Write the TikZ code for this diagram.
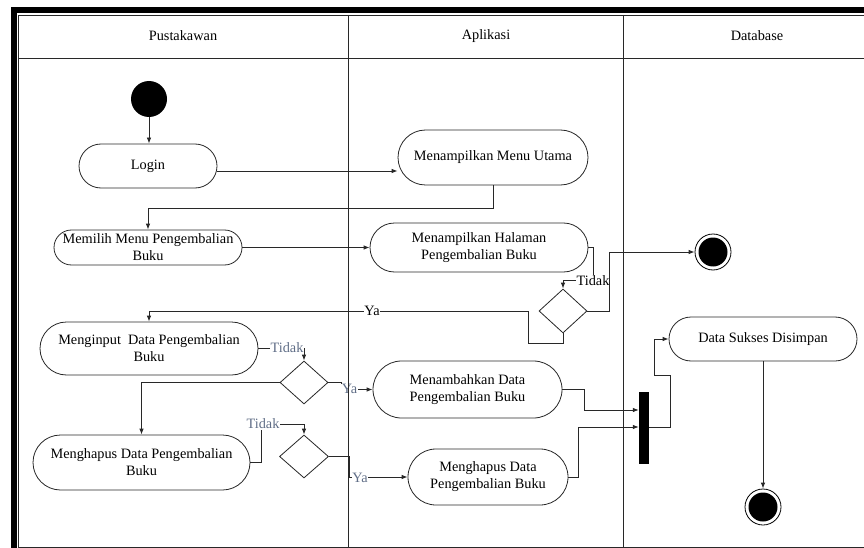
\documentclass[tikz,border=0pt]{standalone}
\usepackage{fontspec}
\setmainfont{Liberation Serif}
\usetikzlibrary{arrows.meta,shapes.geometric}
\newcommand\dgfont{\fontsize{14.3}{17}\selectfont}
\definecolor{slate}{RGB}{96,110,135}
\definecolor{ln}{RGB}{40,40,40}
\begin{document}
\begin{tikzpicture}[x=1pt,y=-1pt,
  act/.style={draw=ln, line width=0.8pt, align=center, inner sep=0pt, font=\dgfont},
  decision/.style={draw=ln, line width=0.8pt, diamond, inner sep=0pt},
  startnode/.style={circle, fill=black, inner sep=0pt, minimum size=36},
  endnode/.style={circle, draw=black, line width=0.8pt, inner sep=0pt, minimum size=36,
    path picture={\fill[black] (path picture bounding box.center) circle (14.5pt);}},
  barnode/.style={fill=black, inner sep=0pt, minimum width=10, minimum height=72},
  arr/.style={draw=ln, line width=0.8pt, -{Latex[length=6pt,width=4.5pt]}},
  lbl/.style={font=\dgfont, inner sep=0.5pt, fill=white},
  lbls/.style={lbl, text=slate},
  lane/.style={line width=0.8pt, draw=ln}
]
\clip (0,0) rectangle (864,548);
\fill[white] (0,0) rectangle (864,548);

% outer frame and header row
\draw[line width=6pt] (13.5,10.5) rectangle (890,570);
\draw[lane] (18,15) rectangle (880,547);
\draw[lane] (18,58) -- (880,58);

\node[font=\dgfont] (h1) at (183,36) {Pustakawan};
\node[font=\dgfont] (h2) at (486,36) {Aplikasi};
\node[font=\dgfont] (h3) at (757,36) {Database};

% activities
\node[startnode] (start) at (149,99) {};
\node[act, minimum width=138, minimum height=44, rounded corners=22] (login) at (148,166) {Login};
\node[act, minimum width=190, minimum height=55, rounded corners=27.5] (mmu) at (493,157.5) {Menampilkan Menu Utama};
\node[act, minimum width=188, minimum height=35, rounded corners=17.5] (memilih) at (148,247.5) {Memilih Menu Pengembalian\\Buku};
\node[act, minimum width=218, minimum height=49, rounded corners=24.5] (mhp) at (479,247.5) {Menampilkan Halaman\\Pengembalian Buku};
\node[decision, minimum width=48, minimum height=44] (d1) at (563,311) {};
\node[endnode] (end1) at (713,252) {};
\node[act, minimum width=218, minimum height=53, rounded corners=26.5] (menginput) at (149,348.5) {Menginput\ \ Data Pengembalian\\Buku};
\node[decision, minimum width=48, minimum height=43] (d2) at (304,382.5) {};
\node[act, minimum width=189, minimum height=57, rounded corners=28.5] (tambah) at (467.5,389.5) {Menambahkan Data\\Pengembalian Buku};
\node[act, minimum width=217, minimum height=55, rounded corners=27.5] (hapusp) at (141.5,462.5) {Menghapus Data Pengembalian\\Buku};
\node[decision, minimum width=49, minimum height=43] (d3) at (304,456.5) {};
\node[act, minimum width=160, minimum height=56, rounded corners=28] (hapusa) at (488,477) {Menghapus Data\\Pengembalian Buku};
\node[barnode] (bar) at (644,428) {};
\node[act, minimum width=188, minimum height=44, rounded corners=22] (dsd) at (763,339) {Data Sukses Disimpan};
\node[endnode] (end2) at (763,507) {};

% bend points
\coordinate (k1) at (148,208);
\coordinate (k2) at (593,280);
\coordinate (k3) at (609,252);
\coordinate (k4) at (528,343);
\coordinate (k5) at (149,311);
\coordinate (k6) at (341,389.5);
\coordinate (k7) at (349,477);
\coordinate (k8) at (261,424);
\coordinate (k9) at (584,410);
\coordinate (k10) at (578,427);
\coordinate (k11) at (670,375);
\coordinate (k12) at (654,339);

% flows
\draw[arr] (start) -- (start |- login.north);
\draw[arr] ([yshift=-5pt]login.east) -- ([yshift=-5pt]login.east -| mmu.west);
\draw[arr] (mmu.south) |- (k1) -- (memilih.north);
\draw[arr] (memilih.east) -- (mhp.west);
\draw[arr] (mhp.east) -| (k2) -| (d1.north);
\node[lbl] (t1) at (593,281) {Tidak};
\draw[arr] (d1.east) -| (k3) -- (end1.west);
\draw[arr] (d1.south) |- (k4) |- (k5) -- (menginput.north);
\node[lbl] (y1) at (372,311) {Ya};
\draw[arr] (menginput.east) -| (d2.north);
\node[lbls] (t2) at (287,348) {Tidak};
\draw[arr] (d2.west) -| (hapusp.north);
\draw[arr] (d2.east) -| (k6) -- (tambah.west);
\node[lbls] (y2) at (349.5,389) {Ya};
\draw[arr] (hapusp.east) -| (k8) -| (d3.north);
\node[lbls] (t3) at (263,424) {Tidak};
\draw[arr] (d3.east) -| (k7) -- (hapusa.west);
\node[lbls] (y3) at (360,478) {Ya};
\draw[arr] (tambah.east) -| (k9) -- (k9 -| bar.west);
\draw[arr] (hapusa.east) -| (k10) -- (k10 -| bar.west);
\draw[arr] (bar.east |- k10) -| (k11) -| (k12) -- (dsd.west);
\draw[arr] (dsd.south) -- (end2.north);

% swimlane dividers
\draw[lane] (348,15) -- (348,547);
\draw[lane] (623,15) -- (623,547);
\end{tikzpicture}
\end{document}
